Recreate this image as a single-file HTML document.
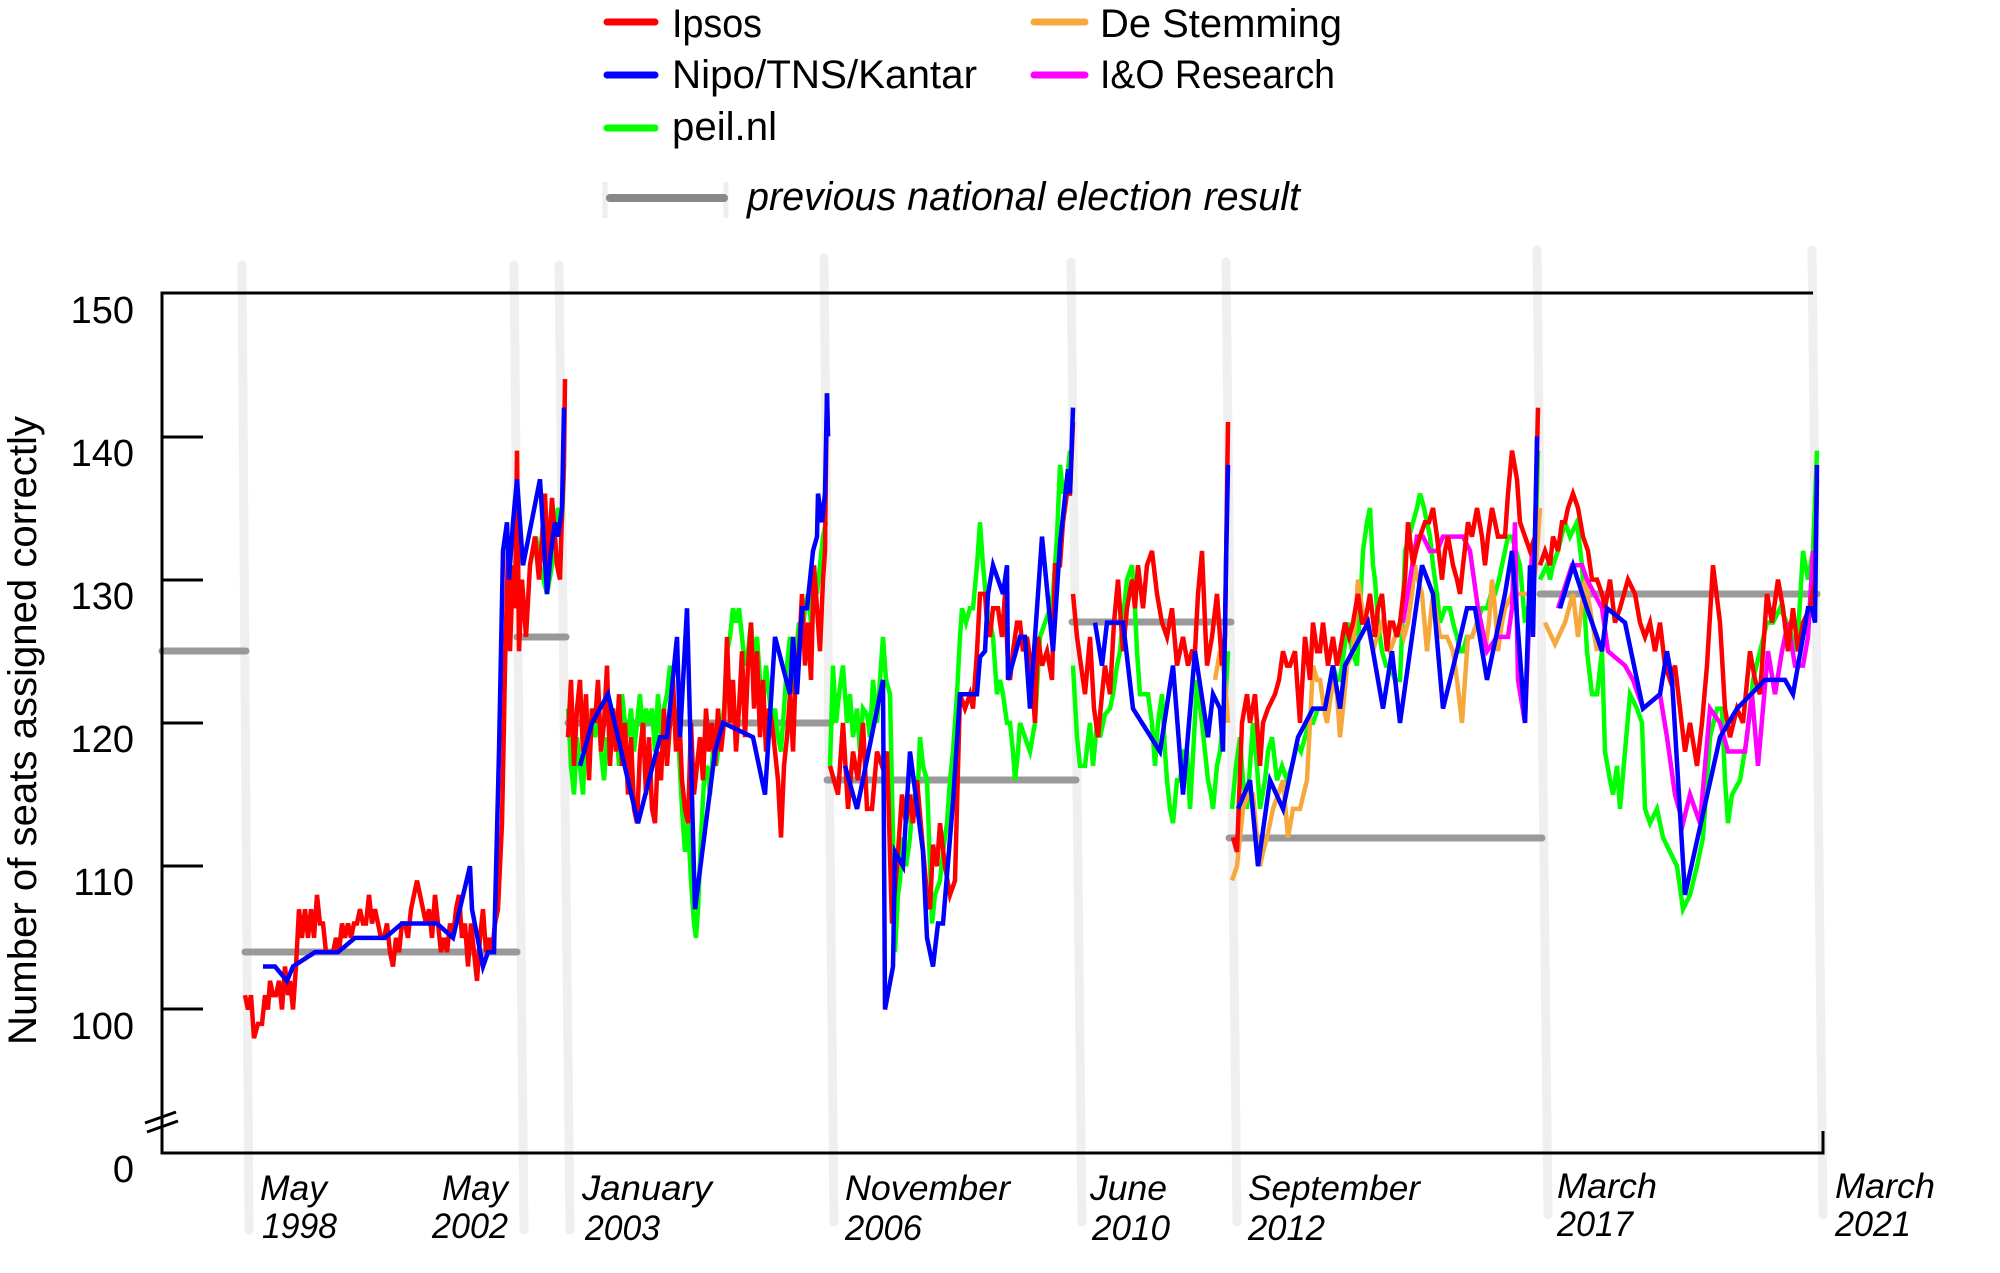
<!DOCTYPE html>
<html><head><meta charset="utf-8"><style>
html,body{margin:0;padding:0;background:#fff;}
svg{display:block;}
text{font-family:"Liberation Sans",sans-serif;fill:#000;}
.it{font-style:italic;}
</style></head><body>
<svg width="2000" height="1273" viewBox="0 0 2000 1273" xmlns="http://www.w3.org/2000/svg">
<rect width="2000" height="1273" fill="#fff"/>

<!-- election vertical bars -->
<g stroke="#efefef" stroke-width="9" stroke-linecap="round">
<line x1="242" y1="265" x2="249" y2="1230"/>
<line x1="514" y1="265" x2="524" y2="1230"/>
<line x1="559" y1="265" x2="570" y2="1230"/>
<line x1="824" y1="258" x2="834" y2="1222"/>
<line x1="1071" y1="262" x2="1082" y2="1222"/>
<line x1="1226" y1="262" x2="1237" y2="1222"/>
<line x1="1537" y1="250" x2="1548" y2="1215"/>
<line x1="1812" y1="250" x2="1823" y2="1215"/>
</g>

<!-- Legend -->
<g stroke-width="7" stroke-linecap="round">
<line x1="607" y1="22" x2="655" y2="22" stroke="#ff0000"/>
<line x1="607" y1="75" x2="655" y2="75" stroke="#0000ff"/>
<line x1="607" y1="128" x2="655" y2="128" stroke="#00ff00"/>
<line x1="1034" y1="22" x2="1085" y2="22" stroke="#f7a83c"/>
<line x1="1034" y1="75" x2="1085" y2="75" stroke="#ff00ff"/>
</g>
<line x1="605" y1="182" x2="605" y2="218" stroke="#eeeeee" stroke-width="5"/>
<line x1="726" y1="182" x2="726" y2="218" stroke="#eeeeee" stroke-width="5"/>
<line x1="610" y1="198" x2="724" y2="198" stroke="#888888" stroke-width="8" stroke-linecap="round"/>
<text x="672" y="37" font-size="40" textLength="90" lengthAdjust="spacingAndGlyphs">Ipsos</text>
<text x="672" y="88" font-size="40" textLength="305" lengthAdjust="spacingAndGlyphs">Nipo/TNS/Kantar</text>
<text x="672" y="140" font-size="40" textLength="105" lengthAdjust="spacingAndGlyphs">peil.nl</text>
<text x="1100" y="37" font-size="40" textLength="242" lengthAdjust="spacingAndGlyphs">De Stemming</text>
<text x="1100" y="88" font-size="40" textLength="235" lengthAdjust="spacingAndGlyphs">I&amp;O Research</text>
<text class="it" x="747" y="210" font-size="40" textLength="553" lengthAdjust="spacingAndGlyphs">previous national election result</text>

<!-- Y axis title -->
<text transform="translate(36,1045) rotate(-90)" font-size="40" textLength="629" lengthAdjust="spacingAndGlyphs">Number of seats assigned correctly</text>

<!-- Y labels -->
<g font-size="38" text-anchor="end">
<text x="134" y="323">150</text>
<text x="134" y="466">140</text>
<text x="134" y="609">130</text>
<text x="134" y="752">120</text>
<text x="134" y="895">110</text>
<text x="134" y="1039">100</text>
<text x="134" y="1182">0</text>
</g>

<!-- election result gray lines -->
<g stroke="#999999" stroke-width="7" stroke-linecap="round">
<line x1="162" y1="651" x2="246" y2="651"/>
<line x1="245" y1="952" x2="517" y2="952"/>
<line x1="517" y1="637" x2="566" y2="637"/>
<line x1="568" y1="723" x2="831" y2="723"/>
<line x1="827" y1="780" x2="1076" y2="780"/>
<line x1="1072" y1="622" x2="1231" y2="622"/>
<line x1="1229" y1="838" x2="1542" y2="838"/>
<line x1="1540" y1="594" x2="1817" y2="594"/>
</g>

<!-- data series -->
<g transform="translate(0,2442.5) scale(1,-14.33)" fill="none" stroke-width="4.5">
<!-- green -->
<g stroke="#00ff00">
<polyline vector-effect="non-scaling-stroke" points="530,131 536,133 540,131 547,129 552,131 558,135 562,134 564,138"/>
<polyline vector-effect="non-scaling-stroke" points="568,121 571,117 574,115 577,119 580,117 583,115 586,120 589,118 592,121 595,119 598,121 601,118 604,116 607,119 610,118 613,121 616,120 619,117 622,122 625,120 628,119 631,121 634,118 637,120 640,122 643,119 646,121 649,120 652,121 655,118 658,122 661,119 664,121 667,122 670,124 673,122 676,120 679,118 682,114 685,111 688,113 691,109 694,106 696,105 698,107 701,112 704,116 707,117 710,115 713,118 716,117 720,119 724,121 727,125 730,126 733,128 736,127 739,128 742,126 745,124 748,125 751,127 754,124 757,126 760,123 763,121 766,124 769,122 772,120 775,121 778,119 781,118 784,121 787,124 790,126 793,122 796,125 799,127 802,126 805,128 808,129 811,127 814,130 817,129 820,131 823,133 826,134"/>
<polyline vector-effect="non-scaling-stroke" points="830,117 833,124 836,120 839,122 843,124 847,120 850,122 853,119 857,121 860,118 863,121 867,120.6 870,119 873,123 877,120 880,123 883,126 886,123 890,122 893,112 895,104 898,108 900,109 903,112 906,110 910,112 913,115 917,114 920,119 923,117 927,116 930,110 932,106 935,108 940,109 943,111 947,113 950,116 953,118 957,122 960,126 962,128 966,127 970,128 973,128 977,131 980,134 983,131 987,128 990,127 993,126 997,122 1000,123 1003,122 1007,120 1010,120 1013,118 1015,116 1018,118 1020,120 1025,119 1030,118 1035,120 1040,126 1045,127 1050,128 1053,129 1057,133 1060,138 1063,136 1067,137 1070,139"/>
<polyline vector-effect="non-scaling-stroke" points="1073,124 1077,119 1080,117 1085,117 1090,120 1093,117 1097,120 1100,119 1105,120.6 1110,121 1113,122 1117,124 1120,125 1124,128 1127,130 1132,131 1135,128 1137,125 1140,122 1145,122 1148,122 1152,120 1155,117 1158,120 1162,122 1165,118 1167,116 1170,114 1173,113 1177,116 1180,116 1184,118 1187,118 1190,114 1194,119 1197,123 1202,120 1205,118 1208,116 1211,115 1213,114 1217,117 1220,118 1225,121 1228,125"/>
<polyline vector-effect="non-scaling-stroke" points="1232,114 1236,117 1240,119 1243,116 1247,114 1250,117 1253,120 1257,117 1260,114 1265,116 1268,118 1272,119 1277,116 1282,117 1287,116 1292,117 1297,118.5 1301,118 1305,119 1309,120 1313,120 1318,121 1323,121 1328,122 1333,124 1337,123 1340,123 1344,125 1348,127 1352,125 1357,124 1360,128 1363,132 1367,134 1370,135 1373,131 1375,130 1378,127 1382,125 1386,124 1390,124 1395,123 1400,123 1403,128 1405,132 1409,133 1413,134 1417,135 1420,136 1424,135 1427,134 1430,133 1433,131 1437,129 1440,127 1445,128 1450,128 1453,127 1457,126 1460,125 1463,125 1467,126 1472,126 1477,127 1482,128 1487,128 1491,129 1495,129 1499,130 1502,131 1505,132 1508,133 1512,133 1516,132 1520,131 1525,127 1528,128 1532,129 1535,131 1538,139"/>
<polyline vector-effect="non-scaling-stroke" points="1540,130 1547,131 1550,130 1553,131 1558,132 1565,134 1570,133 1577,134 1582,131 1587,125 1592,122 1597,122 1602,125 1605,118 1610,116 1613,115 1617,117 1620,114 1625,118 1630,122 1637,121 1642,120 1645,114 1650,113 1657,114 1663,112 1670,111 1677,110 1683,107 1690,108 1697,110 1703,112 1710,119 1717,121 1722,121 1725,116 1728,113 1732,115 1740,116 1747,119 1753,123 1760,125 1767,127 1773,127 1780,128 1787,127 1797,125 1803,132 1808,130 1813,132 1817,139"/>
</g>
<!-- orange -->
<g stroke="#f7a83c">
<polyline vector-effect="non-scaling-stroke" points="1215,123 1220,125 1225,123 1228,120"/>
<polyline vector-effect="non-scaling-stroke" points="1232,109 1237,110 1243,114 1248,115 1253,115 1257,112 1260,110 1263,111 1267,112 1270,113 1273,114 1278,115 1283,116 1288,112 1293,114 1300,114 1307,116 1310,120 1313,124 1317,123 1320,123 1324,121 1327,120 1333,123 1337,122 1340,119 1343,121 1347,124 1353,125 1358,130 1362,128 1367,127 1370,126 1373,125 1377,126 1382,127 1386,126 1390,125 1395,126 1400,127 1404,126 1408,127 1412,129 1415,131 1418,130 1422,129 1427,125 1433,129 1440,126 1447,126 1453,125 1457,123 1462,120 1465,123 1468,126 1472,126 1477,127 1481,126 1485,125 1489,127 1492,130 1495,128 1498,125 1502,127 1505,128 1512,129 1518,129 1525,129 1532,129 1536,131 1540,135"/>
<polyline vector-effect="non-scaling-stroke" points="1545,127 1555,125.5 1565,127 1573,129 1578,126 1585,130 1590,128 1597,125"/>
</g>
<!-- magenta -->
<g stroke="#ff00ff">
<polyline vector-effect="non-scaling-stroke" points="1403,127 1410,130 1417,133 1423,133 1430,132 1437,132 1443,133 1450,133 1463,133 1470,132 1478,128 1487,125 1497,126 1508,126 1512,128 1515,134 1518,123 1525,120 1532,132"/>
<polyline vector-effect="non-scaling-stroke" points="1558,128 1572,131 1582,131 1587,130 1602,128 1608,125 1625,124 1633,123 1643,121 1660,122 1667,119 1675,115 1683,113 1690,115 1700,113 1710,121 1720,120 1728,118 1745,118 1752,122 1758,117 1768,125 1775,122 1782,125 1788,127 1795,124 1803,124 1808,126 1813,132"/>
</g>
<!-- red -->
<g stroke="#ff0000">
<polyline vector-effect="non-scaling-stroke" points="245,101 248,100 251,101 254,98 258,99 262,99 265,101 268,100 270,102 273,101 276,101 279,102 282,100 285,103 288,101 290,102 293,100 296,103 299,107 302,105 305,107 308,105 311,107 314,105 317,108 320,106 323,106 326,104 330,104 333,104 336,105 339,104 342,106 345,105 348,106 351,105 354,106 357,106 360,107 363,106 366,106 369,108 372,106 375,107 378,106 381,105 384,105 387,106 390,104 393,103 396,105 399,104 402,106 405,106 408,105 411,107 414,108 417,109 420,108 423,107 426,106 429,107 432,105 435,108 438,106 441,104 444,105 447,104 450,106 453,105 456,107 459,108 462,105 465,106 468,103 471,106 474,104 477,102 480,105 483,107 486,104 489,105 492,104 495,106 498,107 500,110 502,113 504,120 505,124 508,132 510,125 513,131 515,128 517,139 519,125 522,130 526,126 530,131 535,133 539,130 542,133 545,136 548,131 552,135.7 555,133 557,131 560,130 562,134.6 564,138 565,144"/>
<polyline vector-effect="non-scaling-stroke" points="568,119 571,123 574,117 577,121 580,123 583,118 586,122 589,116 592,121 595,120 598,123 601,118 604,120 607,124 610,117 613,121 616,118 619,122 622,117 625,120 628,115 631,119 634,114 637,113 640,118 643,120 646,115 649,119 652,114 655,113 658,118 661,116 664,121 667,117 670,120 673,123 676,118 679,121 682,116 685,114 688,113 691,120 694,115 697,117 700,119 703,116 706,121 709,118 712,120 715,117 718,121 721,118 724,120 727,126 730,120 733,123 736,118 739,121 742,125 745,119 748,124 751,127 754,121 757,125 760,119 763,123 766,118 769,121 772,120 775,118 778,116 781,112 784,117 787,119 790,122 793,118 796,124 799,125 802,129 805,124 808,127 811,123 814,131 817,128 820,125 823,130 825,132 826,138 827,143 828,140"/>
<polyline vector-effect="non-scaling-stroke" points="830,117 834,116 838,115 843,120 848,114 853,118 858,116 863,120 867,114 872,114 877,118 882,117 887,118 892,106 897,110 902,115 906,113 910,115 913,113 917,116 922,112 927,108 930,107 933,111.5 937,110 940,113 945,110 950,108 955,109 960,122 965,121 970,122 973,121 977,125 980,129 985,129 987,127 990,126 993,128 998,128 1002,126 1005,129 1008,124 1010,123 1013,125 1017,127 1020,127 1023,125 1027,126 1031,124 1035,120 1038,126 1042,124 1047,125 1052,123 1055,131 1060,131 1063,134 1067,136 1070,136 1073,141"/>
<polyline vector-effect="non-scaling-stroke" points="1073,129 1077,126 1081,124 1085,122 1090,126 1094,121 1098,119 1102,122 1105,124 1110,122 1114,127 1118,130 1123,125 1127,128 1132,130 1135,128 1138,131 1143,128 1147,131 1152,132 1157,129 1162,127 1167,126 1172,128 1177,124 1183,126 1188,124 1192,125 1195,125 1198,129 1202,132 1205,127 1207,124 1212,126 1217,129 1222,124 1225,126 1228,141"/>
<polyline vector-effect="non-scaling-stroke" points="1233,112 1237,111 1242,120 1247,122 1250,120 1255,122 1260,117 1263,120 1268,121 1275,122 1279,123 1283,125 1287,124 1290,124 1295,125 1300,120 1305,126 1310,123 1313,127 1317,125 1320,125 1323,127 1328,124 1333,126 1337,124 1340,125 1345,127 1349,126 1353,127 1358,129 1362,127 1365,127 1370,129 1375,126 1378,128 1382,129 1387,125 1390,127 1393,127 1397,126 1400,127 1405,130 1408,134 1413,131 1416,132 1420,133 1425,134 1429,134 1433,135 1437,133 1442,130 1445,132 1448,133 1453,131 1457,130 1460,129 1463,131 1468,134 1472,133 1477,135 1482,133 1485,131 1488,133 1492,135 1498,133 1505,133 1508,136 1512,139 1517,137 1520,134 1525,133 1530,132 1535,133 1538,142"/>
<polyline vector-effect="non-scaling-stroke" points="1540,131 1545,132 1550,131 1553,133 1558,132 1562,134 1565,134 1568,135 1573,136 1578,135 1583,133 1588,132 1592,130 1597,130 1602,129 1605,128 1610,130 1615,127 1620,128 1628,130 1635,129 1640,127 1645,126 1650,127 1655,125 1660,127 1665,124 1670,123 1675,124 1680,121 1685,118 1690,120 1697,117 1702,120 1707,124 1713,131 1720,127 1725,121 1730,119 1737,121 1743,120 1750,125 1755,123 1760,122 1767,129 1772,127 1778,130 1783,128 1788,125 1793,128 1798,125 1803,127 1810,128 1815,130 1817,137"/>
</g>
<!-- blue -->
<g stroke="#0000ff">
<polyline vector-effect="non-scaling-stroke" points="263,103 275,103 287,102 293,103 315,104 338,104 355,105 385,105 402,106 437,106 453,105 470,110 472,107 483,103 488,104 494,104 499,118 503,132 507,134 509,130 513,134 517,137 523,131 540,137 547,129 551,132 555,134 558,133 562,135 564,142"/>
<polyline vector-effect="non-scaling-stroke" points="580,117 592,120 608,122 638,113 660,119 667,119 677,126 680,119 687,128 695,107 715,118 723,120 753,119 765,115 775,126 790,122 793,126 797,122 802,128 807,128 813,132 817,133 818,136 822,134 825,136 827,143 828,140"/>
<polyline vector-effect="non-scaling-stroke" points="845,117 857,114 883,123 885,100 893,103 895,111 903,110 910,118 923,111 927,105 933,103 938,106 943,106 953,114.5 960,122 977,122 980,124.6 985,125 988,129 993,131 1003,129 1007,131 1008,123 1020,126 1025,126 1030,121 1042,133 1053,125 1060,132.5 1068,137.7 1070,136 1073,142"/>
<polyline vector-effect="non-scaling-stroke" points="1095,127 1102,124 1107,127 1123,127 1133,121 1160,118 1173,124 1183,115 1195,125 1208,119 1213,122 1220,121 1223,118 1226,131 1228,138"/>
<polyline vector-effect="non-scaling-stroke" points="1238,114 1250,116 1258,110 1270,116 1283,114 1298,119 1313,121 1325,121 1333,124 1340,121 1345,124 1368,127 1383,121 1392,125 1400,120 1422,131 1433,129 1443,121 1450,123 1457,125 1467,128 1475,128 1487,123 1505,129 1512,132 1525,120 1530,131 1533,126 1537,140"/>
<polyline vector-effect="non-scaling-stroke" points="1560,128 1573,131 1587,128 1602,125 1607,128 1625,127 1643,121 1660,122 1667,125 1672,123 1685,108 1720,119 1737,121 1765,123 1785,123 1793,122 1808,128 1812,128 1815,127 1817,138"/>
</g>
</g>

<!-- axes -->
<g stroke="#000" stroke-width="3" fill="none">
<line x1="162" y1="293" x2="1813" y2="293"/>
<line x1="162" y1="291.5" x2="162" y2="1154.5"/>
<line x1="160.5" y1="1153" x2="1824" y2="1153"/>
<line x1="1823" y1="1131" x2="1823" y2="1154.5"/>
<line x1="162" y1="437" x2="203" y2="437"/>
<line x1="162" y1="580" x2="203" y2="580"/>
<line x1="162" y1="723" x2="203" y2="723"/>
<line x1="162" y1="866" x2="203" y2="866"/>
<line x1="162" y1="1009" x2="203" y2="1009"/>
<line x1="145" y1="1123" x2="176" y2="1112"/>
<line x1="147" y1="1132" x2="178" y2="1121"/>
</g>

<!-- X labels -->
<g class="it" font-size="35" font-style="italic">
<text x="260" y="1200" textLength="67" lengthAdjust="spacingAndGlyphs">May</text>
<text x="262" y="1238" textLength="75" lengthAdjust="spacingAndGlyphs">1998</text>
<text x="442" y="1200" textLength="66" lengthAdjust="spacingAndGlyphs">May</text>
<text x="432" y="1238" textLength="76" lengthAdjust="spacingAndGlyphs">2002</text>
<text x="582" y="1200" textLength="130" lengthAdjust="spacingAndGlyphs">January</text>
<text x="585" y="1240" textLength="75" lengthAdjust="spacingAndGlyphs">2003</text>
<text x="845" y="1200" textLength="165" lengthAdjust="spacingAndGlyphs">November</text>
<text x="845" y="1240" textLength="77" lengthAdjust="spacingAndGlyphs">2006</text>
<text x="1090" y="1200" textLength="77" lengthAdjust="spacingAndGlyphs">June</text>
<text x="1092" y="1240" textLength="78" lengthAdjust="spacingAndGlyphs">2010</text>
<text x="1248" y="1200" textLength="172" lengthAdjust="spacingAndGlyphs">September</text>
<text x="1248" y="1240" textLength="77" lengthAdjust="spacingAndGlyphs">2012</text>
<text x="1557" y="1198" textLength="100" lengthAdjust="spacingAndGlyphs">March</text>
<text x="1557" y="1236" textLength="76" lengthAdjust="spacingAndGlyphs">2017</text>
<text x="1835" y="1198" textLength="100" lengthAdjust="spacingAndGlyphs">March</text>
<text x="1835" y="1236" textLength="76" lengthAdjust="spacingAndGlyphs">2021</text>
</g>
</svg>
</body></html>
